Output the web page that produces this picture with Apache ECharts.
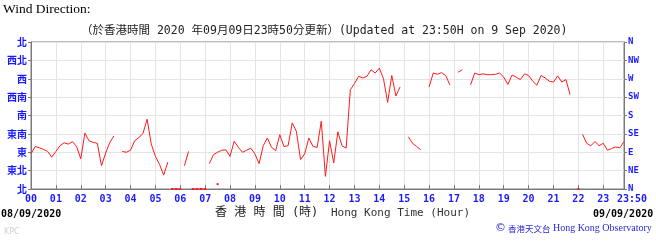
<!DOCTYPE html>
<html><head><meta charset="utf-8">
<script src="https://cdn.jsdelivr.net/npm/echarts@6/dist/echarts.min.js"></script>
<style>html,body{margin:0;padding:0;background:#fff}#c{width:656px;height:246px}</style>
</head><body><div id="c"></div>
<script>
// Direction tick labels (degrees 0..360 step 45)
const leftLabels = ['北','東北','東','東南','南','西南','西','西北','北'];
const rightLabels = ['N','NE','E','SE','S','SW','W','NW','N'];

// 10-minute wind direction (degrees), 00:00 .. 23:50; null = no line
const direction = [
  86,104,101,97,92,78,92,106,113,110,116,104,
  74,137,118,114,112,57,88,114,130,null,92,90,
  95,118,126,136,171,110,80,60,34,66,null,null,
  null,57,92,null,null,null,null,62,84,90,95,96,
  80,117,102,90,95,100,86,62,106,125,102,94,
  133,104,106,162,141,72,86,125,104,102,166,31,
  118,64,140,106,100,243,258,276,272,276,292,284,
  296,270,212,278,228,250,null,128,112,104,96,null,
  250,284,281,285,278,255,null,286,292,null,255,284,
  280,282,280,280,281,284,274,256,279,274,268,282,
  278,264,254,278,272,264,262,277,262,268,231,null,
  null,134,112,106,116,106,112,95,99,103,101,116
];

// readings drawn on the northern baseline (separate marks)
const northIdx = [34,35,36,39,40,41,42,45,132];
const northVal = [0,0,0,0,0,0,0,12,0];

function pad(n){return (n<10?'0':'')+n;}
const times = [];
for (let h=0;h<24;h++) for (let m=0;m<60;m+=10) times.push(pad(h)+':'+pad(m));

const north = times.map(()=>null);
northIdx.forEach((k,j)=>{ north[k]=northVal[j]; });

const blue = '#1a1aff';
const frame = '#7a7a7a';
const gridC = '#e4e4e4';
const lastIdx = times.length-1;
const showIdx = (i)=> i%6===0 || i===lastIdx;

const chart = echarts.init(document.getElementById('c'), null, {renderer:'canvas'});
chart.setOption({
  animation:false,
  backgroundColor:'#fff',
  title:[
    {text:'Wind Direction:', left:3, top:2, padding:0, textStyle:{fontFamily:'Liberation Serif', fontSize:13.5, fontWeight:'normal', color:'#000'}},
    {text:'（於香港時間 2020 年09月09日23時50分更新）(Updated at 23:50H on 9 Sep 2020)', left:81, top:25, padding:0,
      textStyle:{fontFamily:'DejaVu Sans Mono, Noto Sans CJK TC', fontSize:11.5, fontWeight:'normal', color:'#222'}},
    {text:'08/09/2020', left:1, top:209, padding:0, textStyle:{fontFamily:'DejaVu Sans Mono', fontSize:10, fontWeight:'bold', color:'#000'}},
    {text:'09/09/2020', left:593, top:209, padding:0, textStyle:{fontFamily:'DejaVu Sans Mono', fontSize:10, fontWeight:'bold', color:'#000'}},
    {text:'香 港 時 間 (時)', left:215, top:207, padding:0, textStyle:{fontFamily:'DejaVu Sans Mono, Noto Sans CJK TC', fontSize:12, fontWeight:'normal', color:'#222'}},
    {text:'Hong Kong Time (Hour)', left:331, top:208, padding:0, textStyle:{fontFamily:'DejaVu Sans Mono', fontSize:11, fontWeight:'normal', color:'#333'}},
    {text:'{c|©}{z| 香港天文台}{e| Hong Kong Observatory}', left:495, top:223, padding:0,
      textStyle:{fontWeight:'normal', rich:{
        c:{fontFamily:'DejaVu Sans', fontSize:11, fontWeight:'normal', color:'#2a2ad0'},
        z:{fontFamily:'Noto Sans CJK TC', fontSize:8.5, fontWeight:'normal', color:'#2a2ad0'},
        e:{fontFamily:'Liberation Serif', fontSize:10, fontWeight:'normal', color:'#2a2ad0'}
      }}},
    {text:'KPC', left:4, top:228, padding:0, textStyle:{fontFamily:'DejaVu Sans', fontSize:8, fontWeight:'normal', color:'#d0d0d0'}}
  ],
  grid:{left:31, right:32, top:42, bottom:57, show:true, borderColor:frame, borderWidth:1},
  xAxis:{
    type:'category', data:times, boundaryGap:false,
    axisLine:{show:true, lineStyle:{color:frame}},
    axisTick:{show:true, inside:true, length:4, interval:(i)=>showIdx(i), lineStyle:{color:frame}},
    splitLine:{show:true, interval:(i)=>showIdx(i), lineStyle:{color:gridC}},
    axisLabel:{
      interval:(i)=>showIdx(i), margin:5,
      fontFamily:'DejaVu Sans Mono', fontSize:10, fontWeight:'bold', color:blue,
      formatter:(v,i)=> i===lastIdx ? '{e|23:50}' : v.slice(0,2),
      rich:{e:{fontFamily:'DejaVu Sans Mono', fontSize:10, fontWeight:'bold', color:blue, padding:[0,0,0,16]}}
    }
  },
  yAxis:[
    {type:'value', min:0, max:360, interval:45, position:'left',
      axisLine:{show:true, lineStyle:{color:frame}},
      axisTick:{show:true, inside:false, length:3, lineStyle:{color:frame}},
      splitLine:{show:true, lineStyle:{color:gridC}},
      axisLabel:{margin:4, fontFamily:'Noto Sans CJK TC', fontSize:10, fontWeight:'bold', color:blue,
        formatter:(v)=>leftLabels[Math.round(v/45)]}},
    {type:'value', min:0, max:360, interval:45, position:'right',
      axisLine:{show:true, lineStyle:{color:frame}},
      axisTick:{show:true, inside:false, length:3, lineStyle:{color:frame}},
      splitLine:{show:false},
      axisLabel:{margin:4, fontFamily:'DejaVu Sans Mono', fontSize:9, fontWeight:'bold', color:blue,
        formatter:(v)=>rightLabels[Math.round(v/45)]}}
  ],
  series:[
    {type:'line', data:direction, yAxisIndex:0, showSymbol:false, connectNulls:false, clip:false,
      lineStyle:{color:'#ff1a1a', width:1}, itemStyle:{color:'#ff1a1a'}},
    {type:'line', data:north, yAxisIndex:0, showSymbol:true, showAllSymbol:true, symbol:'rect', symbolSize:2,
      connectNulls:false, clip:false, lineStyle:{color:'#ff1a1a', width:1}, itemStyle:{color:'#ff1a1a'}}
  ]
});
</script></body></html>
